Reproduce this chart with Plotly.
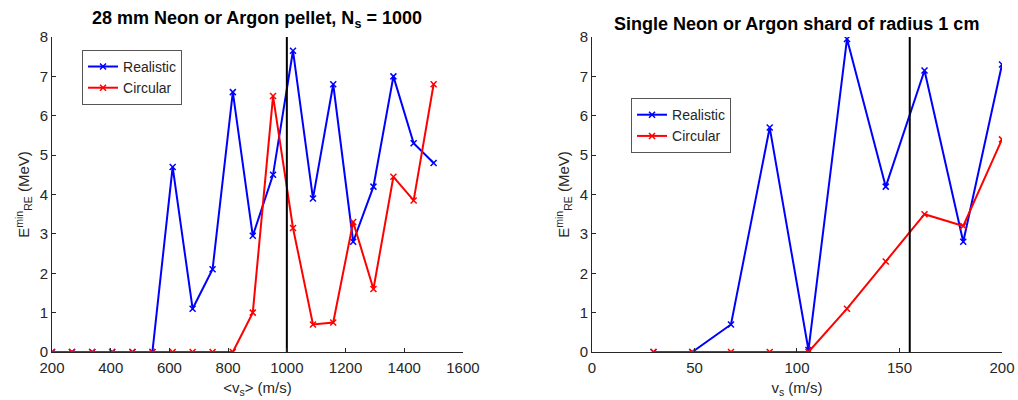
import numpy as np
import plotly.graph_objects as go

# Left panel data
vs_left = [200, 268, 337, 405, 474, 542, 611, 679, 747, 816, 884, 953, 1021, 1089, 1158, 1226, 1295, 1363, 1432, 1500]
realistic_left = [0, 0, 0, 0, 0, 0, 4.7, 1.1, 2.1, 6.6, 2.95, 4.5, 7.65, 3.9, 6.8, 2.8, 4.2, 7.0, 5.3, 4.8]
circular_left = [0, 0, 0, 0, 0, 0, 0, 0, 0, 0, 1.0, 6.5, 3.15, 0.7, 0.75, 3.3, 1.6, 4.45, 3.85, 6.8]
vline_left = 1000

# Right panel data
vs_right = [30, 48.9, 67.8, 86.7, 105.6, 124.4, 143.3, 162.2, 181.1, 200]
realistic_right = [0, 0, 0.7, 5.7, 0.05, 7.95, 4.2, 7.15, 2.8, 7.3]
circular_right = [0, 0, 0, 0, 0, 1.1, 2.3, 3.5, 3.2, 5.4]
vline_right = 155

ylim = [0, 8]
xticks_left = [200, 400, 600, 800, 1000, 1200, 1400, 1600]
xticks_right = [0, 50, 100, 150, 200]
yticks = [0, 1, 2, 3, 4, 5, 6, 7, 8]
title_left = "28 mm Neon or Argon pellet, N<sub>s</sub> = 1000"
title_right = "Single Neon or Argon shard of radius 1 cm"

BLUE = "#0000FF"
RED = "#FF0000"
AX = "#262626"
FONT = "Liberation Sans, Arial, Helvetica, sans-serif"

fig = go.Figure()

def add_panel(xs, real, circ, vline, xa, ya, leg):
    fig.add_trace(go.Scatter(x=xs, y=real, mode="lines+markers", name="Realistic",
                             line=dict(color=BLUE, width=2),
                             marker=dict(symbol="x-thin", size=6, line=dict(color=BLUE, width=1.5)),
                             xaxis=xa, yaxis=ya, legend=leg))
    fig.add_trace(go.Scatter(x=xs, y=circ, mode="lines+markers", name="Circular",
                             line=dict(color=RED, width=2),
                             marker=dict(symbol="x-thin", size=6, line=dict(color=RED, width=1.5)),
                             xaxis=xa, yaxis=ya, legend=leg))
    fig.add_trace(go.Scatter(x=[vline, vline], y=ylim, mode="lines", showlegend=False,
                             line=dict(color="black", width=2), xaxis=xa, yaxis=ya,
                             hoverinfo="skip"))

add_panel(vs_left, realistic_left, circular_left, vline_left, "x", "y", "legend")
add_panel(vs_right, realistic_right, circular_right, vline_right, "x2", "y2", "legend2")

axis_common = dict(showgrid=False, zeroline=False, showline=True, linecolor=AX, linewidth=1,
                   ticks="inside", ticklen=4, tickcolor=AX, mirror=False, automargin=False,
                   tickfont=dict(size=15, color=AX, family=FONT))
title_font = dict(size=15, color=AX, family=FONT)

fig.update_layout(
    width=1018, height=400,
    margin=dict(l=52, r=16, t=37, b=48),
    plot_bgcolor="white", paper_bgcolor="white",
    font=dict(family=FONT, color=AX),
    xaxis=dict(domain=[0, 0.4326], range=[200, 1600], tickvals=xticks_left, ticklabelstandoff=2,
               title=dict(text="&lt;v<sub>s</sub>&gt; (m/s)", font=title_font, standoff=7),
               anchor="y", **axis_common),
    yaxis=dict(domain=[0, 1], range=ylim, tickvals=yticks,
               title=dict(text="E<sup>min</sup><sub>RE</sub> (MeV)", font=title_font, standoff=6),
               anchor="x", **axis_common),
    xaxis2=dict(domain=[0.5684, 1.0], range=[0, 200], tickvals=xticks_right, ticklabelstandoff=2,
                title=dict(text="v<sub>s</sub> (m/s)", font=title_font, standoff=7),
                anchor="y2", **axis_common),
    yaxis2=dict(domain=[0, 1], range=ylim, tickvals=yticks,
                title=dict(text="E<sup>min</sup><sub>RE</sub> (MeV)", font=title_font, standoff=6),
                anchor="x2", **axis_common),
    legend=dict(x=0.0316, y=0.959, xanchor="left", yanchor="top", bgcolor="white",
                bordercolor="#555555", borderwidth=1, font=dict(size=14, color=AX),
                itemwidth=30, tracegroupgap=0),
    legend2=dict(x=0.6095, y=0.806, xanchor="left", yanchor="top", bgcolor="white",
                 bordercolor="#555555", borderwidth=1, font=dict(size=14, color=AX),
                 itemwidth=30, tracegroupgap=0),
    showlegend=True,
)

fig.add_annotation(text="<b>" + title_left + "</b>", xref="x domain", yref="paper",
                   x=0.5, y=1.0, yshift=4, xanchor="center", yanchor="bottom", showarrow=False,
                   font=dict(size=18, color="black", family=FONT))
fig.add_annotation(text="<b>" + title_right + "</b>", xref="x2 domain", yref="paper",
                   x=0.5, y=1.0, yshift=1, xanchor="center", yanchor="bottom", showarrow=False,
                   font=dict(size=18, color="black", family=FONT))

fig.write_html("out.html", config={"displayModeBar": False},
               post_script="document.body.style.margin='0px';document.body.style.overflow='hidden';")
